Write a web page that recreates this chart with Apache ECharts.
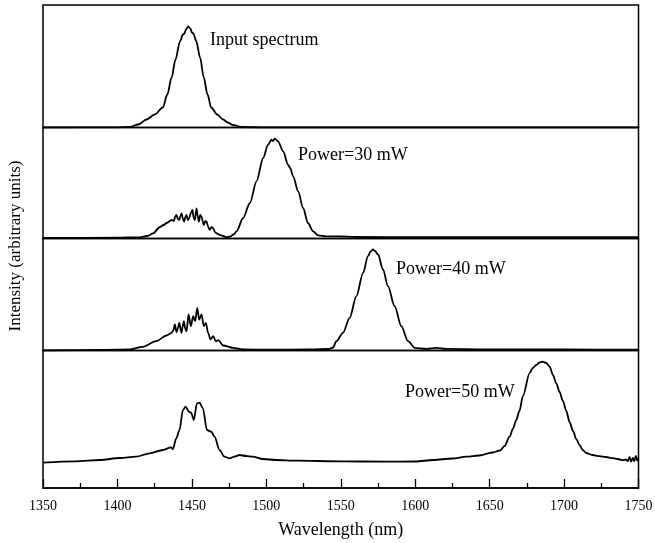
<!DOCTYPE html>
<html>
<head>
<meta charset="utf-8">
<title>Spectra</title>
<script src="https://cdn.jsdelivr.net/npm/echarts@6/dist/echarts.min.js"></script>
<style>
    html, body {margin: 0; padding: 0; background: #fff;}
    #mainChart {width: 655px; height: 543px;}
</style>
</head>
<body>
<div id="mainChart"></div>
<script>
// wavelength (nm), intensity (arbitrary units)
var inputSpectrum = [
    [1350, 0], [1400, 0.2], [1408, 0.5], [1414, 3], [1419.5, 8], [1425, 13], [1430.5, 20],
    [1433.5, 33], [1436.4, 50], [1439, 68], [1442, 86], [1444, 93], [1445, 94], [1446, 98],
    [1447.5, 101], [1449, 99], [1450, 95], [1451, 94], [1453, 86], [1455.5, 70], [1458, 50],
    [1460.5, 33], [1463, 20], [1467, 13], [1471, 8], [1474, 5], [1477.5, 2.5], [1484, 0.5],
    [1500, 0], [1750, 0]
];
var power30 = [
    [1350, 0], [1400, 0.3], [1415, 0.7], [1420, 2], [1424, 4.7], [1428.5, 11], [1431, 13],
    [1433, 15], [1436.4, 18], [1438, 17], [1438.6, 21], [1439.7, 23], [1440.6, 19], [1441.5, 18],
    [1442.3, 22], [1443.1, 24.7], [1444, 19], [1444.8, 16.3], [1445.6, 21], [1446.4, 23],
    [1447.3, 18], [1448.2, 19.7], [1449.3, 25], [1450.4, 28], [1451.2, 20], [1452, 18],
    [1453.1, 29.7], [1453.9, 22], [1454.7, 16.3], [1455.6, 23], [1456.5, 21.3], [1457.2, 17],
    [1458, 13], [1459, 17], [1459.9, 16.3], [1461, 11], [1462, 8], [1463.2, 11], [1464.3, 9.7],
    [1465.5, 6], [1466.6, 4.7], [1469, 3], [1471, 2], [1473.3, 0.8], [1475.5, 1.3], [1478, 3.5],
    [1480, 6.7], [1484.4, 20], [1489, 35], [1493.4, 56.7], [1497.9, 80], [1501.2, 93.3],
    [1503.5, 98.3], [1504.5, 97], [1505.7, 99.3], [1507.9, 96.7], [1511.3, 86.7], [1514.6, 73.3],
    [1516, 70], [1518, 61.7], [1521.4, 46.7], [1524.7, 30], [1528, 15], [1531.4, 6.7],
    [1534.8, 2.7], [1540.4, 1.7], [1549.3, 1.7], [1560, 1], [1600, 0.8], [1650, 0.8],
    [1700, 0.8], [1750, 0.8]
];
var power40 = [
    [1350, 0], [1390, 0.5], [1408, 1], [1417, 3.7], [1426, 9.3], [1433, 15], [1436.4, 17.7],
    [1437.5, 20], [1438.6, 26], [1439.7, 18.3], [1440.6, 22], [1441.5, 27.7], [1443, 17.7],
    [1443.8, 24], [1444.6, 29.3], [1445.5, 22], [1446.4, 19.3], [1447.8, 36], [1449.3, 24.3],
    [1450.9, 34.3], [1452.2, 29.3], [1453.6, 42.7], [1454.9, 31], [1456.5, 36], [1458, 24.3],
    [1459.4, 27.7], [1460.9, 17.7], [1462.5, 11], [1464.3, 14.3], [1466.1, 9.3], [1467.7, 10.3],
    [1471, 5], [1477.7, 2.7], [1484.4, 1], [1500, 0.8], [1530, 1], [1542, 1.5], [1544.8, 3],
    [1547.1, 9.3], [1551.5, 17.7], [1556, 32.7], [1560.5, 54.3], [1565, 77.7], [1568.3, 94.3],
    [1570, 99], [1571.7, 101], [1573, 99.5], [1575, 96], [1578.4, 81], [1581.7, 64.3],
    [1586.2, 44.3], [1590.7, 24.3], [1595.2, 9.3], [1599.7, 2.7], [1607.5, 1.7], [1614.2, 2.7],
    [1621, 1.7], [1650, 1], [1700, 1], [1750, 0.8]
];
var power50 = [
    [1350, 0.3], [1372, 1.7], [1388, 3], [1401.5, 5], [1412.6, 6.3], [1421.6, 9.7], [1430.5, 13],
    [1436.1, 15.7], [1437.2, 13.7], [1439.5, 24.7], [1441.7, 33], [1444, 53], [1445.8, 56.3],
    [1448, 51.3], [1449.5, 50.3], [1451.3, 43], [1453.4, 59.7], [1455.1, 60.3], [1457.4, 54.7],
    [1460.1, 33], [1463, 31.3], [1465.2, 26.3], [1468.6, 13], [1471.9, 6.3], [1475.3, 4.7],
    [1478.6, 6.3], [1482, 8], [1486.4, 7], [1490.9, 6.3], [1497.7, 4], [1506.6, 3], [1520, 2.3],
    [1550, 1.7], [1580, 1.3], [1600, 1.5], [1612, 3], [1625, 4.5], [1634.4, 6.3], [1643, 7.5],
    [1652, 10.5], [1657, 12.5], [1660, 17], [1663.4, 26.3], [1665.7, 34.3], [1667.9, 43],
    [1670, 52], [1672.4, 67], [1676.8, 89.7], [1679, 95], [1681.3, 98], [1683.5, 100.5],
    [1685.8, 101.3], [1688, 100], [1690.3, 96.3], [1692.5, 88], [1694.8, 79.7], [1697, 71],
    [1699.2, 62], [1701.5, 52], [1703.7, 41], [1706, 32], [1708.2, 24], [1710.4, 18],
    [1712.5, 13], [1714.9, 10], [1719, 8], [1723.8, 6.8], [1728, 6], [1732.8, 4.8], [1736, 4],
    [1739.5, 2.8], [1741.5, 3.5], [1742.9, 2], [1744, 6], [1745, 1.5], [1746.2, 5],
    [1747.2, 1.8], [1748.2, 7], [1749.2, 2.5], [1750, 5]
];
var spectra = [inputSpectrum, power30, power40, power50];
var labels = ['Input spectrum', 'Power=30 mW', 'Power=40 mW', 'Power=50 mW'];

var serif = '"Liberation Serif", "DejaVu Serif", serif';

// panels stacked top to bottom, all share 1350-1750 nm
var panels = [
    {top: 5, height: 122.5, min: 0, max: 122.5, label: [210, 41]},
    {top: 127.5, height: 111, min: -0.5, max: 110.5, label: [298, 156]},
    {top: 238.5, height: 112, min: 0, max: 112, label: [396, 270]},
    {top: 350.5, height: 137.5, min: -25, max: 112.5, label: [405, 393]}
];

var grids = [], xAxes = [], yAxes = [], series = [], texts = [];
for (var i = 0; i < panels.length; i++) {
    var p = panels[i];
    var last = i == panels.length - 1;
    grids.push({
        left: 43, right: 16.5, top: p.top, height: p.height,
        outerBoundsMode: 'none', containLabel: false,
        show: true, borderColor: '#000', borderWidth: 1.5, backgroundColor: 'transparent'
    });
    xAxes.push({
        type: 'value', gridIndex: i, min: 1350, max: 1750, interval: 50,
        show: last,
        name: last ? 'Wavelength (nm)' : '',
        nameLocation: 'middle', nameGap: 33,
        nameTextStyle: {fontFamily: serif, fontSize: 18, color: '#000'},
        axisLine: {show: true, onZero: false, lineStyle: {color: '#000', width: 1.5}},
        axisTick: {show: true, inside: true, length: 9, lineStyle: {color: '#000', width: 1.3}},
        minorTick: {show: true, splitNumber: 2, length: 5, lineStyle: {color: '#000', width: 1.3}},
        axisLabel: {
            fontFamily: serif, fontSize: 14, color: '#000', margin: 11,
            formatter: function (v) { return String(v); }
        },
        splitLine: {show: false}
    });
    yAxes.push({
        type: 'value', gridIndex: i, min: p.min, max: p.max, show: false,
        splitLine: {show: false}
    });
    series.push({
        type: 'line', xAxisIndex: i, yAxisIndex: i, data: spectra[i],
        showSymbol: false, smooth: 0.3, smoothMonotone: 'x',
        lineStyle: {color: '#000', width: 1.8}
    });
    texts.push({
        type: 'text', left: p.label[0], top: p.label[1] - 10,
        style: {text: labels[i], font: '18px ' + serif, fill: '#000'}
    });
}

texts.push({
    type: 'text', x: 16, y: 246, rotation: Math.PI / 2,
    style: {
        text: 'Intensity (arbitrary units)', font: '17px ' + serif, fill: '#000',
        align: 'center', verticalAlign: 'middle'
    }
});

var mainChart = echarts.init(document.getElementById('mainChart'));
var option = {
    animation: false,
    backgroundColor: '#fff',
    grid: grids,
    xAxis: xAxes,
    yAxis: yAxes,
    series: series,
    graphic: texts
};
mainChart.setOption(option);
</script>
</body>
</html>
